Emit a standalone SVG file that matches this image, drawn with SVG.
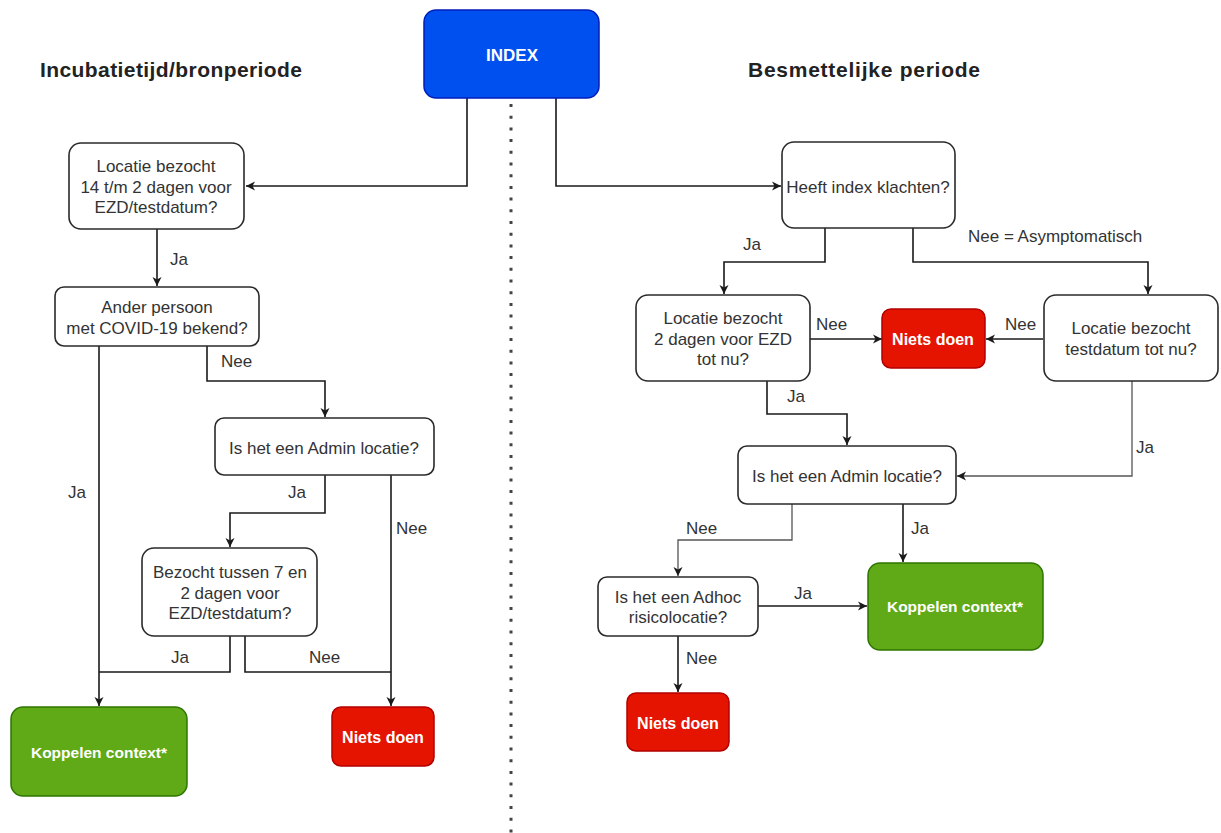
<svg xmlns="http://www.w3.org/2000/svg" width="1221" height="833" viewBox="0 0 1221 833">
<defs>
<style>
.box{fill:#fff;stroke:#2a2a2a;stroke-width:1.6}
.blue{fill:#0050ef;stroke:#001dbc;stroke-width:1.5}
.red{fill:#e51400;stroke:#b20000;stroke-width:1.5}
.green{fill:#60a917;stroke:#2d7600;stroke-width:1.5}
.t{font-family:"Liberation Sans",Arial,sans-serif;font-size:17px;fill:#333;text-anchor:middle}
.w{font-family:"Liberation Sans",Arial,sans-serif;font-weight:bold;fill:#fff;text-anchor:middle}
.lbl{font-family:"Liberation Sans",Arial,sans-serif;font-size:17px;fill:#333}
.title{font-family:"Liberation Sans",Arial,sans-serif;font-size:21px;font-weight:bold;fill:#222}
.c{fill:none;stroke:#1a1a1a;stroke-width:1.6}
.c2{fill:none;stroke:#555;stroke-width:1.3}
</style>
<marker id="arr" markerWidth="10" markerHeight="10" refX="9" refY="5" orient="auto" markerUnits="userSpaceOnUse">
<path d="M0,0.5 L9,5 L0,9.5 L2.5,5 z" fill="#1a1a1a"/>
</marker>
</defs>
<rect width="1221" height="833" fill="#fff"/>

<g id="titles">
<text class="title" x="40" y="77" textLength="262" lengthAdjust="spacing">Incubatietijd/bronperiode</text>
<text class="title" x="748" y="77" textLength="232" lengthAdjust="spacing">Besmettelijke periode</text>
</g>

<g id="divider">
<line x1="511" y1="104" x2="511" y2="833" stroke="#444" stroke-width="3" stroke-dasharray="3 8.7"/>
</g>

<g id="connectors">
<path class="c" d="M467,98 V186 H246" marker-end="url(#arr)"/>
<path class="c" d="M556,98 V186 H781" marker-end="url(#arr)"/>
<path class="c" d="M157,229 V286" marker-end="url(#arr)"/>
<path class="c" d="M99,346 V706" marker-end="url(#arr)"/>
<path class="c" d="M207,346 V381 H325 V417" marker-end="url(#arr)"/>
<path class="c" d="M325,475 V513 H230 V547" marker-end="url(#arr)"/>
<path class="c" d="M391,475 V706" marker-end="url(#arr)"/>
<path class="c" d="M230,636 V672 H99"/>
<path class="c" d="M245,636 V672 H391"/>
<path class="c" d="M825,228 V262 H724 V294" marker-end="url(#arr)"/>
<path class="c" d="M913,228 V262 H1148 V294" marker-end="url(#arr)"/>
<path class="c" d="M810,339 H882" marker-end="url(#arr)"/>
<path class="c" d="M1043,339 H986" marker-end="url(#arr)"/>
<path class="c" d="M767,381 V414 H847 V445" marker-end="url(#arr)"/>
<path class="c2" d="M1132,381 V476 H957" marker-end="url(#arr)"/>
<path class="c2" d="M792,504 V540 H678 V576" marker-end="url(#arr)"/>
<path class="c" d="M903,504 V562" marker-end="url(#arr)"/>
<path class="c" d="M758,606 H867" marker-end="url(#arr)"/>
<path class="c" d="M678,636 V692" marker-end="url(#arr)"/>
</g>

<g id="labels">
<text class="lbl" x="170" y="265">Ja</text>
<text class="lbl" x="221" y="367">Nee</text>
<text class="lbl" x="68" y="498">Ja</text>
<text class="lbl" x="288" y="498">Ja</text>
<text class="lbl" x="396" y="534">Nee</text>
<text class="lbl" x="171" y="663">Ja</text>
<text class="lbl" x="309" y="663">Nee</text>
<text class="lbl" x="743" y="250">Ja</text>
<text class="lbl" x="968" y="242">Nee = Asymptomatisch</text>
<text class="lbl" x="816" y="330">Nee</text>
<text class="lbl" x="1005" y="330">Nee</text>
<text class="lbl" x="787" y="402">Ja</text>
<text class="lbl" x="1136" y="453">Ja</text>
<text class="lbl" x="686" y="534">Nee</text>
<text class="lbl" x="911" y="534">Ja</text>
<text class="lbl" x="794" y="599">Ja</text>
<text class="lbl" x="686" y="664">Nee</text>
</g>

<g id="index">
<rect class="blue" x="424" y="10" width="175" height="88" rx="12"/>
<text class="w" x="512" y="61" font-size="17">INDEX</text>
</g>

<g id="locatie1">
<rect class="box" x="69" y="143" width="175" height="86" rx="12"/>
<text class="t" x="156" y="172">Locatie bezocht</text>
<text class="t" x="156" y="193">14 t/m 2 dagen voor</text>
<text class="t" x="156" y="213">EZD/testdatum?</text>
</g>

<g id="ander">
<rect class="box" x="55" y="287" width="204" height="59" rx="9"/>
<text class="t" x="157" y="313">Ander persoon</text>
<text class="t" x="157" y="334">met COVID-19 bekend?</text>
</g>

<g id="admin1">
<rect class="box" x="215" y="418" width="219" height="57" rx="9"/>
<text class="t" x="324" y="454">Is het een Admin locatie?</text>
</g>

<g id="bezocht">
<rect class="box" x="142" y="548" width="175" height="88" rx="12"/>
<text class="t" x="230" y="578">Bezocht tussen 7 en</text>
<text class="t" x="230" y="599">2 dagen voor</text>
<text class="t" x="230" y="619">EZD/testdatum?</text>
</g>

<g id="koppelen1">
<rect class="green" x="11" y="707" width="176" height="89" rx="12"/>
<text class="w" x="99" y="758" font-size="15.5">Koppelen context*</text>
</g>

<g id="niets1">
<rect class="red" x="332" y="707" width="102" height="59" rx="9"/>
<text class="w" x="383" y="743" font-size="16">Niets doen</text>
</g>

<g id="heeft">
<rect class="box" x="782" y="142" width="173" height="86" rx="12"/>
<text class="t" x="868" y="193">Heeft index klachten?</text>
</g>

<g id="locatie2">
<rect class="box" x="636" y="295" width="174" height="86" rx="12"/>
<text class="t" x="723" y="324">Locatie bezocht</text>
<text class="t" x="723" y="345">2 dagen voor EZD</text>
<text class="t" x="723" y="365">tot nu?</text>
</g>

<g id="niets2">
<rect class="red" x="882" y="309" width="103" height="59" rx="9"/>
<text class="w" x="933" y="345" font-size="16">Niets doen</text>
</g>

<g id="locatie3">
<rect class="box" x="1044" y="295" width="174" height="86" rx="12"/>
<text class="t" x="1131" y="334">Locatie bezocht</text>
<text class="t" x="1131" y="355">testdatum tot nu?</text>
</g>

<g id="admin2">
<rect class="box" x="738" y="446" width="218" height="58" rx="9"/>
<text class="t" x="847" y="482">Is het een Admin locatie?</text>
</g>

<g id="adhoc">
<rect class="box" x="598" y="577" width="160" height="59" rx="9"/>
<text class="t" x="678" y="603">Is het een Adhoc</text>
<text class="t" x="678" y="623">risicolocatie?</text>
</g>

<g id="koppelen2">
<rect class="green" x="868" y="563" width="175" height="87" rx="12"/>
<text class="w" x="955" y="612" font-size="15.5">Koppelen context*</text>
</g>

<g id="niets3">
<rect class="red" x="627" y="693" width="102" height="58" rx="9"/>
<text class="w" x="678" y="729" font-size="16">Niets doen</text>
</g>
</svg>
